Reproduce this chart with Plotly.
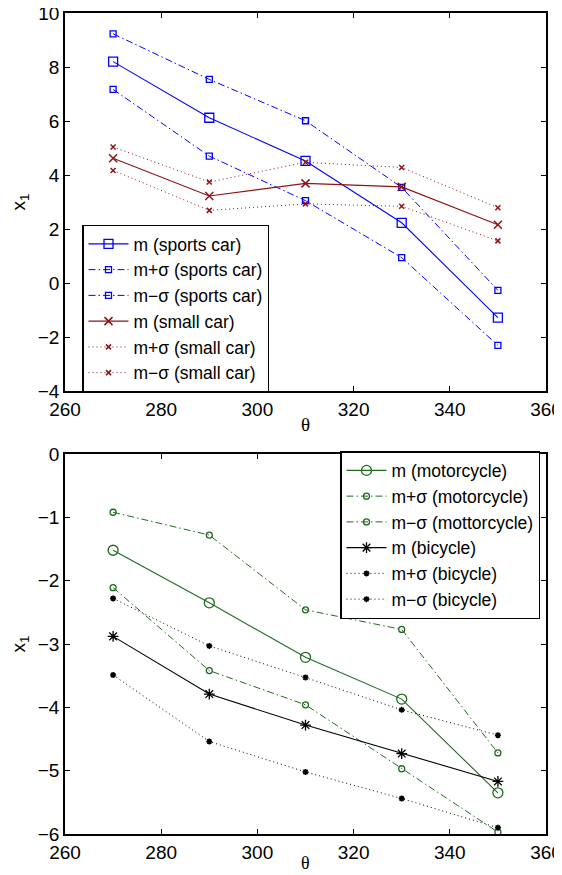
import plotly.graph_objects as go

theta = [270, 290, 310, 330, 350]

# top panel
m_sports = [8.20, 6.12, 4.52, 2.23, -1.28]
mp_sports = [9.23, 7.54, 6.01, 3.54, -0.27]
mm_sports = [7.17, 4.70, 3.05, 0.94, -2.31]
m_small = [4.62, 3.22, 3.69, 3.56, 2.16]
mp_small = [5.04, 3.74, 4.47, 4.28, 2.79]
mm_small = [4.17, 2.69, 2.93, 2.84, 1.56]

# bottom panel
m_moto = [-1.52, -2.35, -3.21, -3.87, -5.35]
mp_moto = [-0.92, -1.28, -2.46, -2.77, -4.72]
mm_moto = [-2.11, -3.42, -3.96, -4.97, -5.97]
m_bike = [-2.88, -3.79, -4.28, -4.73, -5.17]
mp_bike = [-2.28, -3.03, -3.53, -4.04, -4.44]
mm_bike = [-3.49, -4.54, -5.02, -5.44, -5.90]

x_ticks = [260, 280, 300, 320, 340, 360]
y_ticks_top = [-4, -2, 0, 2, 4, 6, 8, 10]
y_ticks_bot = [-6, -5, -4, -3, -2, -1, 0]

BLUE = "#0000ff"
RED = "#8c1414"
GREEN = "#1e6b1e"
BLACK = "#000000"

DASHDOT = "7px,3px,1.5px,3px"
DOT = "1px,3px"

fig = go.Figure()

def add(y, name, color, dash, symbol, size, xa, ya, leg, lw=1.1, mlw=1.3):
    fig.add_trace(go.Scatter(
        x=theta, y=y, name=name, mode="lines+markers",
        line=dict(color=color, dash=dash, width=lw),
        marker=dict(symbol=symbol, size=size, color=color,
                    line=dict(color=color, width=mlw)),
        xaxis=xa, yaxis=ya, legend=leg))

add(m_sports, "m (sports car)", BLUE, "solid", "square-open", 9, "x", "y", "legend")
add(mp_sports, "m+σ (sports car)", BLUE, DASHDOT, "square-open", 6, "x", "y", "legend", lw=1)
add(mm_sports, "m−σ (sports car)", BLUE, DASHDOT, "square-open", 6, "x", "y", "legend", lw=1)
add(m_small, "m (small car)", RED, "solid", "x-thin-open", 8, "x", "y", "legend", mlw=1.5)
add(mp_small, "m+σ (small car)", RED, DOT, "x-thin-open", 5, "x", "y", "legend", lw=1, mlw=1.5)
add(mm_small, "m−σ (small car)", RED, DOT, "x-thin-open", 5, "x", "y", "legend", lw=1, mlw=1.5)

add(m_moto, "m (motorcycle)", GREEN, "solid", "circle-open", 10, "x2", "y2", "legend2")
add(mp_moto, "m+σ (motorcycle)", GREEN, DASHDOT, "circle-open", 6, "x2", "y2", "legend2", lw=1)
add(mm_moto, "m−σ (mottorcycle)", GREEN, DASHDOT, "circle-open", 6, "x2", "y2", "legend2", lw=1)
add(m_bike, "m (bicycle)", BLACK, "solid", "asterisk-open", 9, "x2", "y2", "legend2")
add(mp_bike, "m+σ (bicycle)", BLACK, DOT, "asterisk-open", 5, "x2", "y2", "legend2", lw=1, mlw=1.6)
add(mm_bike, "m−σ (bicycle)", BLACK, DOT, "asterisk-open", 5, "x2", "y2", "legend2", lw=1, mlw=1.6)

axis_common = dict(showline=True, linecolor="black", linewidth=1.5, mirror="allticks",
                   ticks="inside", ticklen=5, tickcolor="black", showgrid=False,
                   zeroline=False, automargin=False, ticklabeloverflow="allow",
                   tickfont=dict(size=19, color="black"))

# the page body adds an 8px offset, so the figure is sized to fill the window
H = 821.0
top_dom = [(834 - 391) / H, 1.0]
bot_dom = [0.0, (834 - 454) / H]

fig.update_layout(
    width=554, height=867,
    margin=dict(l=57, r=16, t=5, b=41, autoexpand=False),
    paper_bgcolor="white", plot_bgcolor="white",
    font=dict(family="Liberation Sans, Arial, Helvetica, sans-serif", size=19, color="black"),
    xaxis=dict(axis_common, domain=[0, 1], range=[260, 360], tickvals=x_ticks, anchor="y"),
    yaxis=dict(axis_common, domain=top_dom, range=[-4, 10], tickvals=y_ticks_top, anchor="x",
               title=dict(text="x<sub>1</sub>", standoff=14, font=dict(size=19))),
    xaxis2=dict(axis_common, domain=[0, 1], range=[260, 360], tickvals=x_ticks, anchor="y2"),
    yaxis2=dict(axis_common, domain=bot_dom, range=[-6, 0], tickvals=y_ticks_bot, anchor="x2",
                title=dict(text="x<sub>1</sub>", standoff=14, font=dict(size=19))),
    legend=dict(x=(175.5 - 65) / 481, y=(834 - 308.5) / H, xanchor="center", yanchor="middle",
                bordercolor="black", borderwidth=1.5, bgcolor="white",
                font=dict(size=17.5), tracegroupgap=0, itemsizing="trace", itemwidth=40),
    legend2=dict(x=(540 - 65) / 481, y=(834 - 535) / H, xanchor="right", yanchor="middle",
                 bordercolor="black", borderwidth=1.5, bgcolor="white",
                 font=dict(size=17.5), tracegroupgap=0, itemsizing="trace", itemwidth=40),
    showlegend=True,
    annotations=[
        dict(text="θ", x=0.5, y=(834 - 424) / H, xref="paper", yref="paper",
             xanchor="center", yanchor="middle", showarrow=False,
             font=dict(family="Liberation Serif, Times New Roman, serif", size=19)),
        dict(text="θ", x=0.5, y=(834 - 863) / H, xref="paper", yref="paper",
             xanchor="center", yanchor="middle", showarrow=False,
             font=dict(family="Liberation Serif, Times New Roman, serif", size=18)),
    ],
)

fig.write_html("out.html")
